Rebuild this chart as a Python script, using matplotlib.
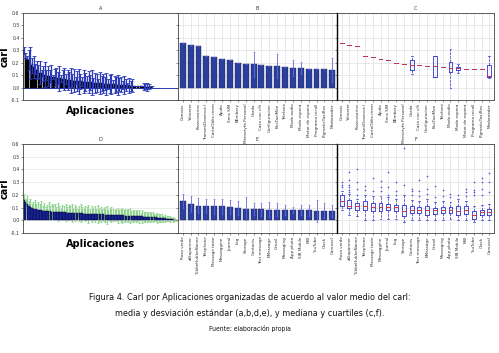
import numpy as np
import matplotlib
matplotlib.use('Agg')
import matplotlib.pyplot as plt
from matplotlib import font_manager

# ---- datos panel A (media y desviacion por aplicacion)
a_mean = [0.30, 0.26, 0.24, 0.22, 0.20, 0.18, 0.165, 0.15, 0.14, 0.13,
          0.12, 0.115, 0.11, 0.105, 0.10, 0.095, 0.09, 0.088, 0.085, 0.082,
          0.08, 0.078, 0.075, 0.073, 0.07, 0.068, 0.066, 0.064, 0.062, 0.06,
          0.058, 0.056, 0.055, 0.054, 0.052, 0.05, 0.049, 0.048, 0.046, 0.045,
          0.044, 0.042, 0.041, 0.04, 0.039, 0.038, 0.036, 0.035, 0.034, 0.033,
          0.032, 0.031, 0.03, 0.029, 0.028, 0.027, 0.026, 0.025, 0.024, 0.023,
          0.022, 0.021, 0.02, 0.019, 0.018, 0.017, 0.016, 0.015, 0.014, 0.013,
          0.012, 0.011, 0.01, 0.009, 0.008, 0.007, 0.006, 0.005, 0.004, 0.003]
a_std = [0.03, 0.02, 0.01, 0.08, 0.13, 0.06, 0.09, 0.04, 0.07, 0.05,
         0.09, 0.03, 0.06, 0.10, 0.04, 0.08, 0.05, 0.09, 0.02, 0.07,
         0.08, 0.05, 0.10, 0.03, 0.07, 0.09, 0.04, 0.08, 0.06, 0.10,
         0.05, 0.09, 0.03, 0.08, 0.10, 0.06, 0.04, 0.09, 0.07, 0.05,
         0.09, 0.06, 0.10, 0.04, 0.08, 0.07, 0.03, 0.09, 0.06, 0.08,
         0.05, 0.09, 0.04, 0.07, 0.08, 0.03, 0.07, 0.06, 0.08, 0.05,
         0.06, 0.03, 0.07, 0.05, 0.02, 0.06, 0.04, 0.05, 0.0, 0.0,
         0.0, 0.0, 0.0, 0.0, 0.03, 0.02, 0.03, 0.02, 0.01, 0.01]

# ---- panel B / C (top 20)
b_names = ['Gonosis', 'Yahoorer', 'Pozzcosarios', 'TransmiDosenca l', 'CartoOblts mem',
           'Ajuda', 'Sens SIM', 'BEmbary', 'Memoryfa Personal', 'Garda',
           'Casa con c/h', 'Configuracion', 'BusTaxiMan', 'Telefone', 'Modo audio',
           'Modo espera', 'Motor de espera', 'Programa recall', 'PigmaticTaxiRes', 'Modoreader']
b_mean = [0.356, 0.345, 0.337, 0.251, 0.249, 0.227, 0.222, 0.198, 0.190, 0.187,
          0.182, 0.176, 0.171, 0.163, 0.155, 0.155, 0.152, 0.150, 0.147, 0.142]
b_std = [0, 0, 0, 0, 0, 0, 0, 0, 0, 0.099,
         0, 0, 0.096, 0, 0.064, 0.048, 0, 0, 0, 0.098]
c_med = [0.356, 0.345, 0.337, 0.251, 0.249, 0.227, 0.222, 0.198, 0.190, 0.182,
         0.182, 0.176, 0.171, 0.163, 0.160, 0.155, 0.152, 0.150, 0.147, 0.095]
c_q1 = [0.356, 0.345, 0.337, 0.251, 0.249, 0.227, 0.222, 0.198, 0.190, 0.142,
        0.182, 0.176, 0.088, 0.163, 0.126, 0.138, 0.152, 0.150, 0.147, 0.088]
c_q3 = [0.356, 0.345, 0.337, 0.251, 0.249, 0.227, 0.222, 0.198, 0.190, 0.222,
        0.182, 0.176, 0.254, 0.163, 0.206, 0.166, 0.152, 0.150, 0.147, 0.179]
c_lo = [0.356, 0.345, 0.337, 0.251, 0.249, 0.227, 0.222, 0.198, 0.190, 0.110,
        0.182, 0.176, 0.088, 0.163, 0.0, 0.120, 0.152, 0.150, 0.147, 0.080]
c_hi = [0.356, 0.345, 0.337, 0.251, 0.249, 0.227, 0.222, 0.198, 0.190, 0.254,
        0.182, 0.176, 0.254, 0.163, 0.313, 0.193, 0.152, 0.150, 0.147, 0.254]

# ---- panel D (media y desviacion, otro grupo)
d_mean = [0.16, 0.14, 0.125, 0.115, 0.105, 0.098, 0.092, 0.088, 0.085, 0.082,
          0.080, 0.078, 0.076, 0.075, 0.073, 0.072, 0.071, 0.070, 0.069, 0.068,
          0.067, 0.066, 0.065, 0.065, 0.064, 0.063, 0.062, 0.062, 0.061, 0.060,
          0.059, 0.059, 0.058, 0.057, 0.057, 0.056, 0.055, 0.055, 0.054, 0.053,
          0.053, 0.052, 0.052, 0.051, 0.050, 0.050, 0.049, 0.049, 0.048, 0.047,
          0.047, 0.046, 0.046, 0.045, 0.044, 0.044, 0.043, 0.043, 0.042, 0.041,
          0.041, 0.040, 0.040, 0.039, 0.038, 0.038, 0.037, 0.037, 0.036, 0.035,
          0.035, 0.034, 0.033, 0.033, 0.032, 0.031, 0.031, 0.030, 0.029, 0.028,
          0.028, 0.027, 0.026, 0.025, 0.024, 0.023, 0.022, 0.021, 0.020, 0.019,
          0.018, 0.016, 0.015, 0.013, 0.012, 0.010, 0.009, 0.007, 0.006, 0.004]
d_std = [0.05, 0.03, 0.07, 0.04, 0.06, 0.03, 0.05, 0.07, 0.04, 0.06,
         0.05, 0.07, 0.04, 0.06, 0.03, 0.05, 0.07, 0.04, 0.06, 0.05,
         0.06, 0.04, 0.07, 0.05, 0.03, 0.06, 0.05, 0.07, 0.04, 0.06,
         0.05, 0.07, 0.04, 0.06, 0.05, 0.03, 0.06, 0.07, 0.05, 0.04,
         0.06, 0.05, 0.07, 0.04, 0.06, 0.05, 0.06, 0.04, 0.07, 0.05,
         0.06, 0.04, 0.05, 0.06, 0.07, 0.04, 0.05, 0.06, 0.05, 0.04,
         0.05, 0.06, 0.04, 0.05, 0.06, 0.04, 0.05, 0.04, 0.05, 0.06,
         0.04, 0.05, 0.04, 0.05, 0.04, 0.05, 0.03, 0.05, 0.04, 0.04,
         0.04, 0.03, 0.04, 0.03, 0.04, 0.03, 0.03, 0.04, 0.03, 0.03,
         0.03, 0.02, 0.03, 0.02, 0.02, 0.02, 0.01, 0.02, 0.01, 0.01]

# ---- panel E / F (top 20)
e_names = ['Rosa verde', 'aKtapanner', 'TubbeHubbeNanne', 'Telephone', 'Message taste',
           'Messaggine', 'Journal', 'Log', 'Storage', 'Contacts',
           'Text message', 'EMessage', 'Gmail', 'Messaging', 'App photo',
           'SIB Mobile', 'Mill', 'YouTube', 'Clock', 'Carousel']
e_mean = [0.154, 0.131, 0.115, 0.115, 0.110, 0.110, 0.104, 0.099, 0.091, 0.089,
          0.086, 0.084, 0.084, 0.081, 0.081, 0.079, 0.079, 0.076, 0.076, 0.073]
e_std = [0.055, 0.062, 0.060, 0.055, 0.060, 0.057, 0.058, 0.055, 0.089, 0.049,
         0.052, 0.056, 0.052, 0.040, 0.026, 0.040, 0.042, 0.086, 0.060, 0.050]
f_med = [0.149, 0.115, 0.115, 0.115, 0.104, 0.104, 0.104, 0.104, 0.076, 0.084,
         0.084, 0.084, 0.084, 0.084, 0.084, 0.076, 0.084, 0.044, 0.063, 0.068]
f_q1 = [0.115, 0.097, 0.084, 0.084, 0.076, 0.076, 0.078, 0.076, 0.037, 0.057,
        0.057, 0.044, 0.052, 0.057, 0.057, 0.042, 0.050, 0.010, 0.044, 0.044]
f_q3 = [0.196, 0.157, 0.136, 0.149, 0.136, 0.136, 0.130, 0.123, 0.123, 0.110,
        0.104, 0.115, 0.097, 0.104, 0.102, 0.115, 0.110, 0.076, 0.084, 0.089]
f_lo = [0.084, 0.040, 0.030, 0.0, 0.0, 0.010, 0.010, 0.010, -0.010, 0.0,
        0.0, 0.0, 0.0, 0.0, 0.010, 0.0, 0.0, -0.010, 0.0, 0.0]
f_hi = [0.230, 0.210, 0.170, 0.200, 0.190, 0.190, 0.180, 0.170, 0.200, 0.160,
        0.150, 0.170, 0.140, 0.150, 0.140, 0.170, 0.150, 0.110, 0.120, 0.130]
f_fliers = [[0.26, 0.28, 0.30], [0.22, 0.24, 0.26, 0.28, 0.32, 0.38], [0.20, 0.25, 0.30, 0.40],
            [0.24, 0.27], [0.23, 0.33], [0.23, 0.26, 0.31], [0.20, 0.26, 0.38], [0.20, 0.23, 0.30],
            [0.28, 0.57], [0.20, 0.23, 0.25], [0.19, 0.23, 0.32], [0.21, 0.25, 0.35],
            [0.18, 0.27], [0.19, 0.24], [0.18, 0.21], [0.20], [0.19, 0.22, 0.25],
            [0.20, 0.22, 0.24, 0.30], [0.20, 0.25, 0.30, 0.33], [0.22, 0.30, 0.37]]

caption1 = 'Figura 4. Carl por Aplicaciones organizadas de acuerdo al valor medio del carl:'
caption2 = 'media y desviación estándar (a,b,d,e), y mediana y cuartiles (c,f).'
caption3 = 'Fuente: elaboración propia'

yticks = [-0.1, 0.0, 0.1, 0.2, 0.3, 0.4, 0.5, 0.6]
ylabels = ['-0.1', '0.0', '0.1', '0.2', '0.3', '0.4', '0.5', '0.6']
bar_col = '#2b3f9c'
err_col = '#6a6ae0'
W, H = 499.0, 353.0

fig = plt.figure(figsize=(4.99, 3.53), dpi=100)


def box(x, y0, y1, w):
    return [x / W, 1 - y1 / H, w / W, (y1 - y0) / H]


axA = fig.add_axes(box(23, 13, 100, 155))
axB = fig.add_axes(box(178, 13, 100, 159))
axC = fig.add_axes(box(337, 13, 100, 157))
axD = fig.add_axes(box(23, 144, 233, 155))
axE = fig.add_axes(box(178, 144, 233, 159))
axF = fig.add_axes(box(337, 144, 233, 157))

for ax, t in zip([axA, axB, axC, axD, axE, axF], 'ABCDEF'):
    ax.set_ylim(-0.1, 0.6)
    ax.set_yticks(yticks)
    ax.set_title(t, fontsize=3.5, pad=2, color='#333333')
    ax.tick_params(labelsize=3.3, length=1.5, width=0.4, pad=1, colors='#333333')
    for s in ax.spines.values():
        s.set_linewidth(0.6)
        s.set_color('#444444')

# A
xa = np.arange(len(a_mean))
axA.bar(xa, a_mean, width=0.8, color='black', edgecolor='black', linewidth=0.3)
axA.errorbar(xa, a_mean, yerr=a_std, fmt='none', ecolor='#2a3ab8', elinewidth=0.9,
             capsize=1.2, capthick=0.6)
axA.axhline(0, color='#2f3fb0', lw=0.7, zorder=0)
axA.set_xlim(-0.5, len(a_mean) * 1.19)
axA.set_xticks([])
axA.set_yticklabels(ylabels)

# D
xd = np.arange(len(d_mean))
axD.bar(xd, d_mean, width=0.9, color='#1f2fb0', edgecolor='#000030', linewidth=0.3, zorder=2)
axD.errorbar(xd, d_mean, yerr=d_std, fmt='none', ecolor='#8fd48f', elinewidth=0.9,
             capsize=1.0, capthick=0.6, zorder=1)
axD.set_xlim(-0.8, len(d_mean) + 0.5)
axD.set_xticks([])
axD.grid(axis='y', color='#dddddd', lw=0.4, zorder=0)
axD.set_yticklabels(ylabels)

for ax in (axA, axD):
    ax.set_ylabel('carl', fontsize=7, fontweight='bold')
    ax.yaxis.set_label_coords(-0.085, 0.5)
    ax.set_xlabel('Aplicaciones', fontsize=7, fontweight='bold', labelpad=4)


def bars(ax, names, mean, std):
    x = np.arange(len(names))
    ax.bar(x, mean, width=0.75, color=bar_col, edgecolor='#1a2560', linewidth=0.3, zorder=2)
    ax.errorbar(x, mean, yerr=std, fmt='none', ecolor=err_col, elinewidth=0.6,
                capsize=1.0, capthick=0.4, zorder=3)
    ax.set_xlim(-0.6, len(names) - 0.4)
    ax.set_xticks(x)
    ax.set_xticklabels(names, rotation=90, fontsize=3)
    ax.tick_params(axis='y', labelleft=False)
    ax.grid(True, color='#d8d8d8', lw=0.4)
    ax.set_axisbelow(True)


def boxes(ax, names, med, q1, q3, lo, hi, fl):
    stats = []
    for i in range(len(names)):
        stats.append(dict(med=med[i], q1=q1[i], q3=q3[i], whislo=lo[i], whishi=hi[i],
                          fliers=fl[i] if fl else []))
    ax.bxp(stats, positions=np.arange(len(names)), widths=0.5, showfliers=True,
           boxprops=dict(color='#3030d0', lw=0.6),
           medianprops=dict(color='#e03030', lw=0.7),
           whiskerprops=dict(color='#3030d0', lw=0.5, ls='--'),
           capprops=dict(color='#3030d0', lw=0.5),
           flierprops=dict(marker='+', markeredgecolor='#5050e0', markersize=2,
                           markeredgewidth=0.4))
    ax.set_xlim(-0.6, len(names) - 0.4)
    ax.set_xticks(np.arange(len(names)))
    ax.set_xticklabels(names, rotation=90, fontsize=3)
    ax.tick_params(axis='y', labelleft=False)
    ax.grid(True, color='#d8d8d8', lw=0.4)
    ax.set_axisbelow(True)
    ax.set_ylim(-0.1, 0.6)


bars(axB, b_names, b_mean, b_std)
boxes(axC, b_names, c_med, c_q1, c_q3, c_lo, c_hi, None)
bars(axE, e_names, e_mean, e_std)
boxes(axF, e_names, f_med, f_q1, f_q3, f_lo, f_hi, f_fliers)
for ax in (axC, axF):
    ax.spines['left'].set_linewidth(1.0)
    ax.spines['left'].set_color('black')

# caption in a narrow font if one exists, sized to the reference width
cap_font = None
for fam, stretch in [('Liberation Sans Narrow', 'normal'), ('DejaVu Sans', 'condensed'),
                     ('Roboto Condensed', 'normal'), ('Open Sans', 'condensed'),
                     ('Roboto', 'normal')]:
    try:
        fp = font_manager.FontProperties(family=fam, stretch=stretch)
        font_manager.findfont(fp, fallback_to_default=False)
        cap_font = (fam, stretch)
        break
    except Exception:
        continue
if cap_font is None:
    cap_font = ('DejaVu Sans', 'normal')

t1 = fig.text(0.5, 1 - 298 / H, caption1, ha='center', va='center', fontsize=8,
              family=cap_font[0], stretch=cap_font[1], color='#111111')
t2 = fig.text(0.5, 1 - 313 / H, caption2, ha='center', va='center', fontsize=8,
              family=cap_font[0], stretch=cap_font[1], color='#111111')
t3 = fig.text(0.5, 1 - 328 / H, caption3, ha='center', va='center', fontsize=6,
              family=cap_font[0], stretch=cap_font[1], color='#111111')
r = fig.canvas.get_renderer()
w1 = t1.get_window_extent(r).width
size = min(9.0, 8 * 320.0 / w1)
t1.set_fontsize(size)
t2.set_fontsize(size)
t3.set_fontsize(size * 0.75)

fig.savefig('out.png', dpi=100)
